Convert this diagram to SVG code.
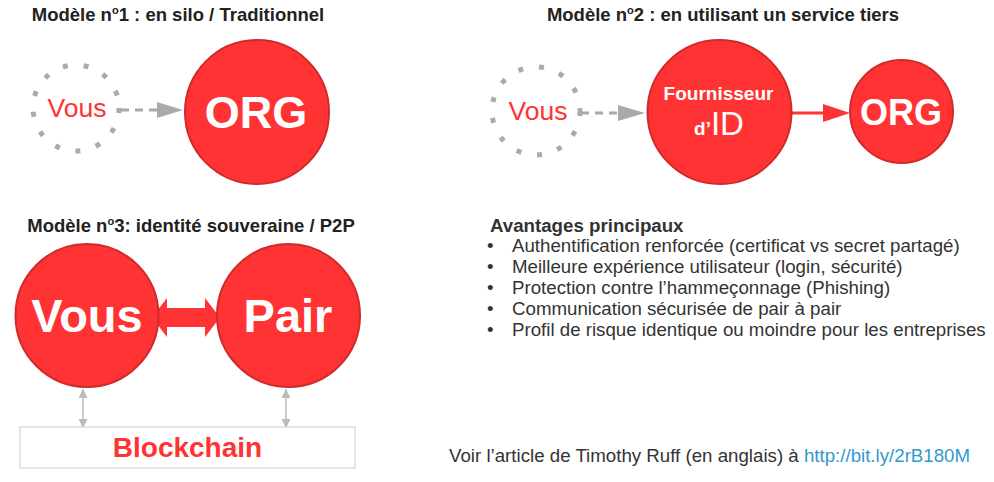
<svg xmlns="http://www.w3.org/2000/svg" width="994" height="482" viewBox="0 0 994 482">
<style>
.title{font-family:"Liberation Sans",Arial,sans-serif;font-weight:bold;font-size:18.5px;fill:#222}
.red{fill:#ff3333;stroke:#d02a2a;stroke-width:2}
.wb{font-family:"Liberation Sans",Arial,sans-serif;font-weight:bold;fill:#fff;text-anchor:middle}
.dots{fill:none;stroke:#aaa;stroke-width:5;stroke-dasharray:5 16}
.vous{font-family:"Liberation Sans",Arial,sans-serif;font-size:26.5px;fill:#ff3333;text-anchor:middle}
.dash{stroke:#aaa;stroke-width:3;stroke-dasharray:8 6;fill:none}
.body{font-family:"Liberation Sans",Arial,sans-serif;font-size:18.7px;fill:#333}
</style>
<defs>
<marker id="gh" viewBox="0 0 10 10" refX="10" refY="5" markerWidth="9" markerHeight="9" markerUnits="userSpaceOnUse" orient="auto-start-reverse"><path d="M0,0 L10,5 L0,10 Z" fill="#bbb"/></marker>
</defs>

<text class="title" x="178" y="21" text-anchor="middle">Modèle n<tspan font-size="11" dy="-7">o</tspan><tspan dy="7">1 : en silo / Traditionnel</tspan></text>
<text class="title" x="723" y="21" text-anchor="middle">Modèle n<tspan font-size="11" dy="-7">o</tspan><tspan dy="7">2 : en utilisant un service tiers</tspan></text>
<text class="title" x="191" y="232" text-anchor="middle">Modèle n<tspan font-size="11" dy="-7">o</tspan><tspan dy="7">3: identité souveraine / P2P</tspan></text>

<g id="connectors">
  <line class="dash" x1="121" y1="110" x2="160" y2="110"/>
  <polygon points="157,102 183,110 157,118" fill="#aaa"/>
  <line class="dash" x1="581" y1="113" x2="620" y2="113"/>
  <polygon points="618,105 645,113 618,121" fill="#aaa"/>
  <line x1="792" y1="113" x2="826" y2="113" stroke="#ff3333" stroke-width="3"/>
  <polygon points="823,104 850,113 823,122" fill="#ff3333"/>
  <polygon points="152,317.5 167,298 167,308 205,308 205,298 220,317.5 205,337 205,327 167,327 167,337" fill="#ff3333"/>
  <line x1="83" y1="389" x2="83" y2="428" stroke="#bbb" stroke-width="1.5" marker-start="url(#gh)" marker-end="url(#gh)"/>
  <line x1="286" y1="389" x2="286" y2="428" stroke="#bbb" stroke-width="1.5" marker-start="url(#gh)" marker-end="url(#gh)"/>
</g>

<g id="vous1">
  <circle class="dots" cx="76" cy="108" r="43"/>
  <text class="vous" x="77" y="117">Vous</text>
</g>
<g id="org1">
  <circle class="red" cx="257" cy="112" r="72"/>
  <text class="wb" x="256" y="128" font-size="45">ORG</text>
</g>

<g id="vous2">
  <circle class="dots" cx="536" cy="111" r="44"/>
  <text class="vous" x="538" y="120">Vous</text>
</g>
<g id="fournisseur">
  <circle class="red" cx="719.5" cy="112" r="72"/>
  <text class="wb" x="718.5" y="100" font-size="19">Fournisseur</text>
  <text class="wb" x="719" y="135"><tspan font-size="19">d’</tspan><tspan font-size="33" font-weight="normal">ID</tspan></text>
</g>
<g id="org2">
  <circle class="red" cx="901.5" cy="111.5" r="51.5"/>
  <text class="wb" x="901" y="125" font-size="36">ORG</text>
</g>

<g id="vous3">
  <circle class="red" cx="87" cy="315.5" r="71.5"/>
  <text class="wb" x="87" y="332" font-size="47">Vous</text>
</g>
<g id="pair">
  <circle class="red" cx="288.5" cy="315.5" r="71.5"/>
  <text class="wb" x="288" y="332" font-size="47">Pair</text>
</g>
<g id="blockchain">
  <rect x="20" y="427" width="335" height="41" fill="#fff" stroke="#ccc" stroke-width="1"/>
  <text x="187.5" y="457" font-family="Liberation Sans, Arial, sans-serif" font-weight="bold" font-size="28" fill="#ff3333" text-anchor="middle">Blockchain</text>
</g>

<g id="avantages">
  <text class="body" x="490" y="232" font-weight="bold" fill="#222">Avantages principaux</text>
  <text class="body" x="487" y="252">•</text><text class="body" x="512" y="252">Authentification renforcée (certificat vs secret partagé)</text>
  <text class="body" x="487" y="273">•</text><text class="body" x="512" y="273">Meilleure expérience utilisateur (login, sécurité)</text>
  <text class="body" x="487" y="294">•</text><text class="body" x="512" y="294">Protection contre l’hammeçonnage (Phishing)</text>
  <text class="body" x="487" y="315">•</text><text class="body" x="512" y="315">Communication sécurisée de pair à pair</text>
  <text class="body" x="487" y="336">•</text><text class="body" x="512" y="336">Profil de risque identique ou moindre pour les entreprises</text>
</g>

<text class="body" x="449" y="462" font-size="18.8">Voir l’article de Timothy Ruff (en anglais) à <tspan fill="#3399cc">http://bit.ly/2rB180M</tspan></text>
</svg>
